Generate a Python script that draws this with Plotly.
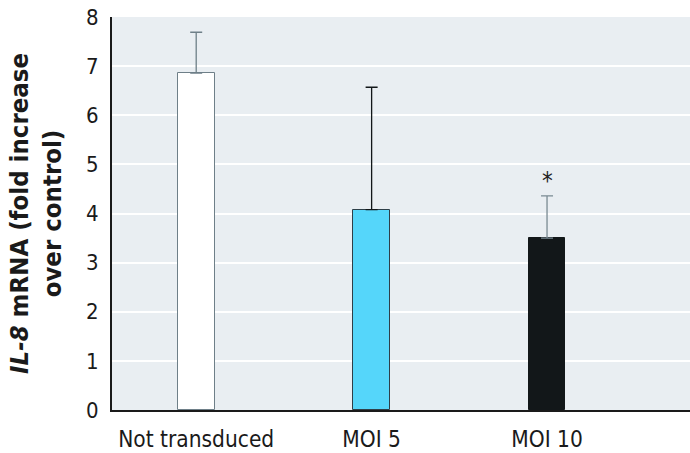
import plotly.graph_objects as go

categories = ["Not transduced", "MOI 5", "MOI 10"]
values = [6.86, 4.08, 3.50]
err_plus = [0.83, 2.49, 0.86]
bar_colors = ["#FFFFFF", "#55D6FA", "#121719"]
line_colors = ["#6E7F88", "#2E3F48", "#121719"]
err_colors = ["#6E7F88", "#121719", "#7A8A93"]
y_ticks = [0, 1, 2, 3, 4, 5, 6, 7, 8]
star_y = 4.66

FONT = "DejaVu Sans Condensed, Liberation Sans Narrow, sans-serif"

fig = go.Figure()
for i, c in enumerate(categories):
    fig.add_trace(go.Bar(
        x=[c], y=[values[i]],
        marker=dict(color=bar_colors[i], line=dict(color=line_colors[i], width=1)),
        error_y=dict(type="data", symmetric=False, array=[err_plus[i]], arrayminus=[0],
                     color=err_colors[i], thickness=1.3, width=6),
        width=0.21, showlegend=False,
    ))

fig.add_annotation(x=categories[2], y=star_y, text="*", showarrow=False,
                   font=dict(family=FONT, size=24, color="#222222"),
                   yanchor="middle")

fig.add_annotation(xref="paper", yref="paper", x=0, y=0.5, xanchor="right", yanchor="middle",
                   xshift=-43, textangle=-90, showarrow=False,
                   text="<b><i>IL-8</i> mRNA (fold increase<br>over control)</b>",
                   font=dict(family=FONT, size=25.5, color="#1a1a1a"))

fig.update_layout(
    width=690, height=453,
    margin=dict(l=112, r=0, t=17, b=43),
    plot_bgcolor="#E9EEF2", paper_bgcolor="#FFFFFF",
    bargap=0.0,
    font=dict(family=FONT, size=22, color="#1a1a1a"),
)
fig.update_xaxes(range=[-0.48, 2.815], showline=True, linecolor="#1a1a1a", linewidth=2,
                 ticks="", showgrid=False, ticklabelstandoff=8, ticklabeloverflow="allow",
                 automargin=False,
                 tickfont=dict(family=FONT, size=22.5, color="#1a1a1a"))
fig.update_yaxes(range=[0, 8], tickvals=y_ticks, showline=True, linecolor="#1a1a1a", linewidth=2,
                 ticks="", gridcolor="#FFFFFF", gridwidth=1.5, zeroline=False, ticklabelstandoff=7,
                 ticklabeloverflow="allow", automargin=False,
                 tickfont=dict(family=FONT, size=22, color="#1a1a1a"))

fig.write_html(
    "out.html",
    config={"displayModeBar": False},
    post_script=(
        "document.body.style.margin='0';"
        "document.body.style.overflow='hidden';"
        "document.documentElement.style.overflow='hidden';"
    ),
)
